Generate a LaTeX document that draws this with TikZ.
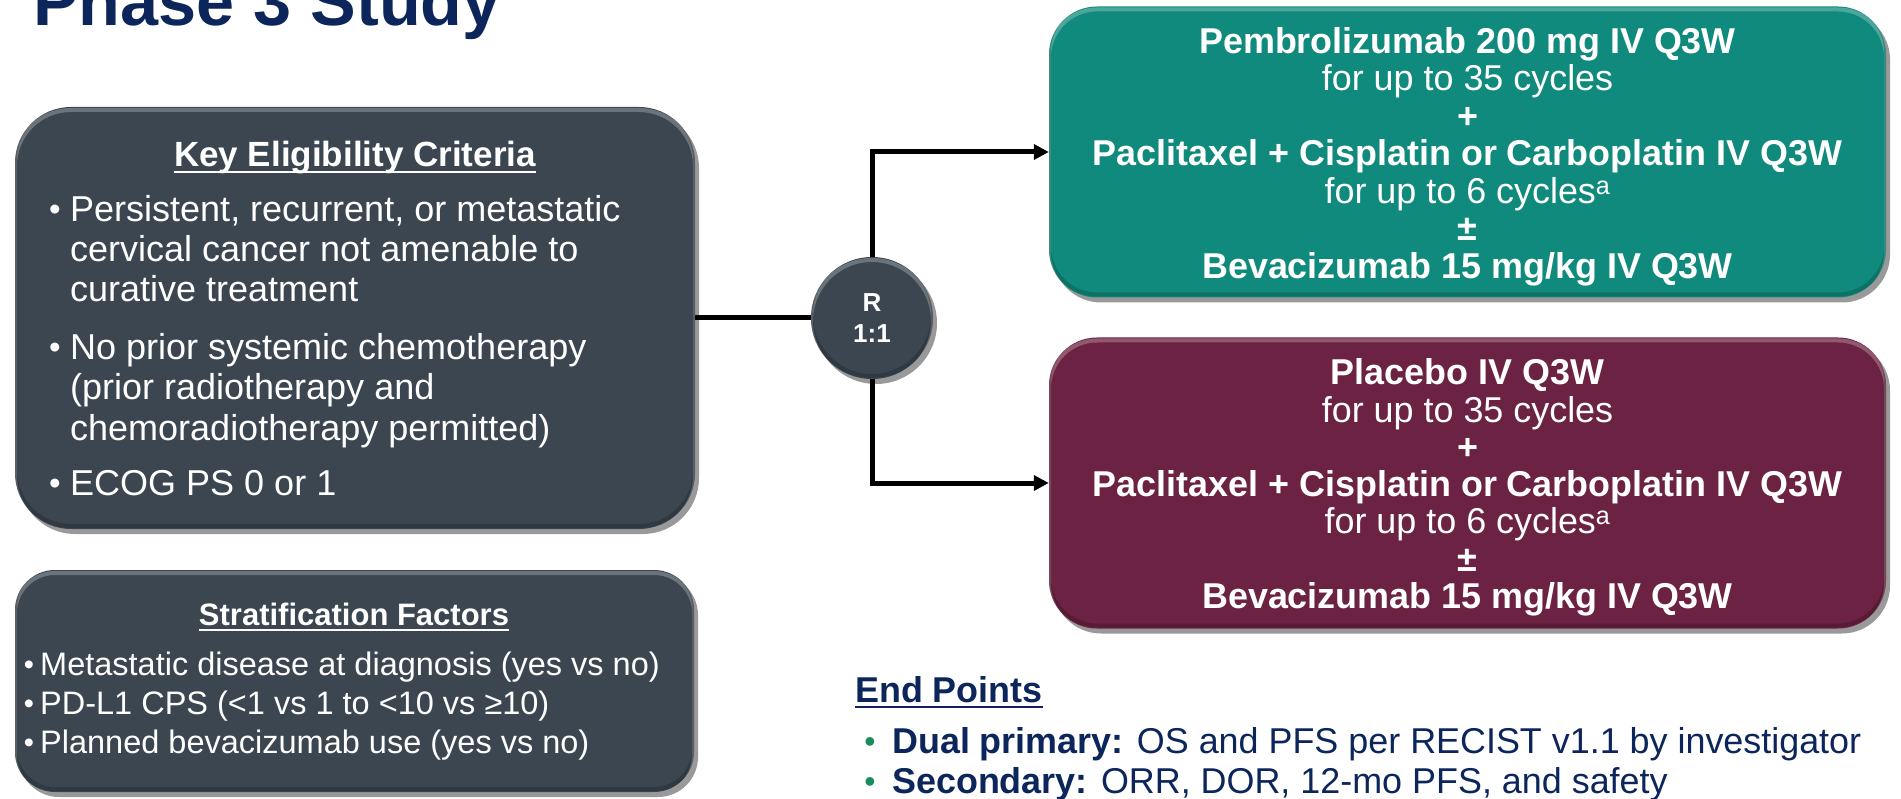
\documentclass[tikz,border=0pt]{standalone}
\usepackage{fontspec}
\setmainfont{Liberation Sans}
\usetikzlibrary{arrows.meta,shadows}
\definecolor{navy}{RGB}{12,38,92}
\definecolor{slate}{RGB}{59,70,80}
\definecolor{tealbox}{RGB}{16,138,124}
\definecolor{maroonbox}{RGB}{108,34,66}
\definecolor{greenbul}{RGB}{24,140,90}
\tikzset{
  boxshape/.style={rectangle, draw=none, inner sep=0pt,
    drop shadow={shadow xshift=4pt, shadow yshift=-5pt, opacity=0.4, fill=black}},
  bevel/.style={path picture={
      \draw[white, opacity=0.25, line width=4pt, rounded corners=#1]
        ([yshift=-3pt]path picture bounding box.north west) rectangle ([yshift=-3pt]path picture bounding box.south east);
      \draw[black, opacity=0.18, line width=4pt, rounded corners=#1]
        ([yshift=3pt]path picture bounding box.north west) rectangle ([yshift=3pt]path picture bounding box.south east);
    }},
  cbevel/.style={path picture={
      \draw[white, opacity=0.25, line width=4pt]
        ([yshift=-3pt]path picture bounding box.center) circle (#1);
      \draw[black, opacity=0.18, line width=4pt]
        ([yshift=3pt]path picture bounding box.center) circle (#1);
    }},
  wt/.style={inner sep=0pt, text=white},
  ctr/.style={wt, anchor=base},
  lft/.style={wt, anchor=base west},
  bigB/.style={font=\fontsize{35.9}{38}\selectfont\bfseries},
  bigR/.style={font=\fontsize{35.9}{38}\selectfont},
  eligR/.style={font=\fontsize{36}{40}\selectfont},
  eligBul/.style={font=\fontsize{33}{40}\selectfont},
  stratR/.style={font=\fontsize{32.5}{36}\selectfont},
  stratBul/.style={font=\fontsize{29}{36}\selectfont},
  conn/.style={line width=5pt, black},
  arr/.style={conn, -{Triangle[length=15pt,width=15pt]}},
}
\begin{document}
\begin{tikzpicture}[x=1pt,y=-1pt]
\useasboundingbox (0,0) rectangle (1901,799);
% title
\node[inner sep=0pt, anchor=base west, text=navy, font=\fontsize{68.4}{70}\selectfont\bfseries] (title) at (33,26) {Phase 3 Study};

% boxes
\node[boxshape, bevel=56pt, fill=slate, rounded corners=56pt, minimum width=680pt, minimum height=422pt] (elig) at (355,318) {};
\node[boxshape, bevel=40pt, fill=slate, rounded corners=40pt, minimum width=679pt, minimum height=222pt] (strat) at (354.5,681) {};
\node[boxshape, bevel=48pt, fill=tealbox, rounded corners=48pt, minimum width=837pt, minimum height=291pt] (teal) at (1467.5,152) {};
\node[boxshape, bevel=48pt, fill=maroonbox, rounded corners=48pt, minimum width=837pt, minimum height=291pt] (mar) at (1467.5,483) {};
\node[boxshape, cbevel=61pt, circle, fill=slate, minimum size=122pt] (rand) at (872,318) {};

% connectors
\draw[conn] (elig.east) -- (rand.west);
\draw[arr] (rand.north) |- (teal.west);
\draw[arr] (rand.south) |- (mar.west);

% randomisation text
\node[ctr, font=\fontsize{26}{30}\selectfont\bfseries] (rR) at (872,312) {R};
\node[ctr, font=\fontsize{26}{30}\selectfont\bfseries] (r11) at (872,342.5) {1:1};

% eligibility box
\node[ctr, font=\fontsize{35}{40}\selectfont\bfseries] (kt) at (355,167) {Key Eligibility Criteria};
\draw[white, line width=2.5pt] ([yshift=-5pt]kt.base west) -- ([yshift=-5pt]kt.base east);
\node[ctr, eligBul] (b1) at (55,221) {•};
\node[lft, eligR] (e1a) at (70,222) {Persistent, recurrent, or metastatic};
\node[lft, eligR] (e1b) at (70,262) {cervical cancer not amenable to};
\node[lft, eligR] (e1c) at (70,302) {curative treatment};
\node[ctr, eligBul] (b2) at (55,359) {•};
\node[lft, eligR] (e2a) at (70,360) {No prior systemic chemotherapy};
\node[lft, eligR] (e2b) at (70,400) {(prior radiotherapy and};
\node[lft, eligR] (e2c) at (70,440) {chemoradiotherapy permitted)};
\node[ctr, eligBul] (b3) at (55,494) {•};
\node[lft, eligR] (e3a) at (70,495) {ECOG PS 0 or 1};

% stratification box
\node[ctr, font=\fontsize{31}{36}\selectfont\bfseries] (st) at (354,625) {Stratification Factors};
\draw[white, line width=2.2pt] ([yshift=-5pt]st.base west) -- ([yshift=-5pt]st.base east);
\node[ctr, stratBul] (sb1) at (29,674) {•};
\node[lft, stratR] (s1) at (40,675) {Metastatic disease at diagnosis (yes vs no)};
\node[ctr, stratBul] (sb2) at (29,713) {•};
\node[lft, stratR] (s2) at (40,714) {PD-L1 CPS (<1 vs 1 to <10 vs ≥10)};
\node[ctr, stratBul] (sb3) at (29,752) {•};
\node[lft, stratR] (s3) at (40,753) {Planned bevacizumab use (yes vs no)};

% teal arm
\node[ctr, bigB] (t1) at (1467.5,53.5) {Pembrolizumab 200 mg IV Q3W};
\node[ctr, bigR] (t2) at (1467.5,91) {for up to 35 cycles};
\node[ctr, bigB] (t3) at (1467.5,128.5) {+};
\node[ctr, bigB] (t4) at (1467.5,166) {Paclitaxel + Cisplatin or Carboplatin IV Q3W};
\node[ctr, bigR] (t5) at (1467.5,203.5) {for up to 6 cycles\textsuperscript{a}};
\node[ctr, bigB] (t6) at (1467.5,241) {±};
\node[ctr, bigB] (t7) at (1467.5,278.5) {Bevacizumab 15 mg/kg IV Q3W};

% maroon arm
\node[ctr, bigB] (m1) at (1467.5,385) {Placebo IV Q3W};
\node[ctr, bigR] (m2) at (1467.5,422) {for up to 35 cycles};
\node[ctr, bigB] (m3) at (1467.5,459) {+};
\node[ctr, bigB] (m4) at (1467.5,496.5) {Paclitaxel + Cisplatin or Carboplatin IV Q3W};
\node[ctr, bigR] (m5) at (1467.5,533.5) {for up to 6 cycles\textsuperscript{a}};
\node[ctr, bigB] (m6) at (1467.5,571) {±};
\node[ctr, bigB] (m7) at (1467.5,608) {Bevacizumab 15 mg/kg IV Q3W};

% end points
\node[inner sep=0pt, anchor=base west, text=navy, bigB] (ep) at (855,702) {End Points};
\draw[navy, line width=2.5pt] ([yshift=-5pt]ep.base west) -- ([yshift=-5pt]ep.base east);
\node[inner sep=0pt, anchor=base, text=greenbul, font=\fontsize{32}{36}\selectfont] (pb1) at (870,752) {•};
\node[inner sep=0pt, anchor=base west, text=navy, bigR] (p1) at (892,753) {\textbf{Dual primary:} OS and PFS per RECIST v1.1 by investigator};
\node[inner sep=0pt, anchor=base, text=greenbul, font=\fontsize{32}{36}\selectfont] (pb2) at (870,792) {•};
\node[inner sep=0pt, anchor=base west, text=navy, bigR] (p2) at (892,793) {\textbf{Secondary:} ORR, DOR, 12-mo PFS, and safety};
\end{tikzpicture}
\end{document}
